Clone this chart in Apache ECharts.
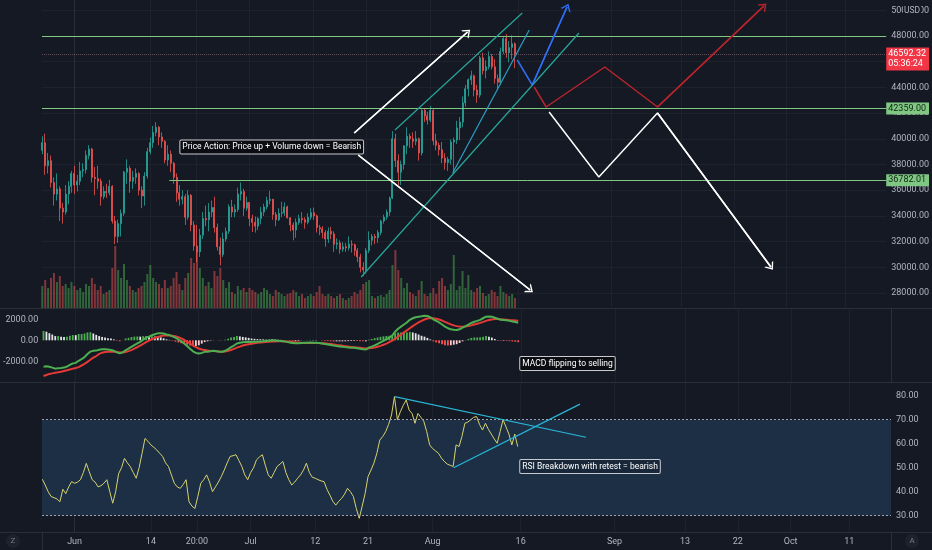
<!DOCTYPE html>
<html><head><meta charset="utf-8">
<script src="https://cdn.jsdelivr.net/npm/echarts@6/dist/echarts.min.js"></script>
<style>html,body{margin:0;padding:0;background:#151924;}#c{width:932px;height:550px;}</style>
</head><body><div id="c"></div>
<script>
// ---------- DATA (12h candles, x in days from 2021-06-01 00:00) ----------
const candleStart = -5.5;          // first candle: 2021-05-26 12:00
const candleStep = 0.5;            // 12 hours
const firstOpen = 39100;
const closes = [39700,37900,38300,36600,35700,36100,34600,34300,35700,36300,
37300,36400,36700,37500,37600,38700,39200,37000,36900,36700,
35500,35900,35800,36300,33600,32400,33400,34200,37400,37700,
36700,37000,37300,36000,35550,37100,39000,39700,40500,40900,
40150,39800,38350,38800,38100,37000,35800,35300,35500,33900,
35600,33300,31650,31200,32500,33800,33700,34300,34650,33100,
31600,31000,32200,32800,34700,34300,34500,35700,35900,34600,
35050,33800,33500,33200,33800,34300,34700,35200,35300,34100,
33700,34200,34250,34700,33850,33300,32900,33500,33800,33700,
33500,33900,34250,34000,33100,33000,32700,32200,32800,32600,
31800,31900,31400,31600,31500,31800,31750,31300,30800,30000,
29800,31300,32100,32400,32300,32700,33600,33900,34300,35400,
40000,38300,37400,38000,39450,40200,40000,39800,40000,38900,
42200,41800,41450,42200,39850,39500,39150,38500,38150,38400,
39750,39900,40850,41300,42800,43900,44600,44900,43800,43400,
46300,45300,45600,46400,45600,44700,44400,46800,47800,46700,
47100,47400,46592.32];
const highs = [40200,40400,38900,38700,37000,37300,36300,35000,36400,36700,
37500,37900,37200,38200,38100,39100,39500,39300,37800,37900,
36900,36300,36500,36800,36400,34000,33700,34500,37500,38400,
37900,37500,37700,37400,36300,37400,39300,40100,41000,41300,
41000,40500,39900,39500,39100,38200,37300,36400,36000,35700,
36000,35700,33600,33300,33000,34300,34800,35000,35200,35500,
33400,32300,32700,33100,34900,35250,34900,36200,36600,36100,
35500,35050,34100,33950,33900,34700,34950,35500,35950,35300,
34300,34600,35100,35050,34800,33900,33500,33800,34100,34300,
33900,34200,34600,34650,34100,33300,33200,32900,33100,33150,
32800,32250,32100,31950,31900,32400,32100,31850,31500,31050,
30400,31500,32800,32600,32600,32900,33700,34100,34500,35500,
40600,40400,38800,38300,39500,40900,40400,40500,40600,40100,
42300,42400,42100,42550,42300,40400,39700,39750,38900,38600,
39950,40100,41400,41700,43300,44200,44700,45300,45000,44200,
46450,46700,46100,46800,46600,46200,45000,47100,47900,48150,
47600,48050,47500];
const lows = [38800,37200,37300,36200,34800,35200,33600,33400,34100,34900,
35800,35700,35900,36400,37000,37300,38400,36600,35600,36100,
34800,35300,35400,35600,33400,31800,31900,32400,34000,36500,
35800,36100,36500,35600,34600,34800,36900,38800,39300,40200,
39500,39300,38100,37900,37400,36500,35100,34800,34900,33300,
33700,32800,31300,30400,30800,32200,33200,32800,33900,32700,
31300,30150,30800,32000,32600,33900,33900,34300,35200,34000,
34400,33200,32750,32700,32900,33350,34000,34500,34900,33700,
33200,33600,33900,34000,33800,32800,32100,32300,33300,33400,
33000,33350,33700,33700,32700,32500,32250,31600,31900,32200,
31200,31400,31050,31200,31200,31300,31150,30900,30400,29600,
29300,29500,31100,31700,31800,31900,32500,33400,33700,34000,
35300,37800,36400,36400,37600,38800,39300,39300,39500,38300,
38700,41300,41100,41300,39500,39100,38700,38100,37600,37500,
38000,37300,39600,39900,40900,42500,43300,44200,43300,42800,
43200,45000,44700,45400,45400,44300,43800,44200,46600,46300,
45950,46200,45500];
const volumes = [2200,2800,2000,3000,3500,2600,3200,2200,2400,2000,
2600,2200,1800,2000,1600,2400,2200,3000,2400,1800,
2200,1400,1600,1800,4000,6200,3800,3000,4400,2800,
2200,1800,1600,2000,2200,2600,3400,4300,3000,2600,
2400,2000,2800,2000,2200,3000,3600,2400,1800,3000,
3500,5000,4500,5800,4000,3000,2200,2600,2000,3700,
3200,4000,2800,2000,2600,1600,1400,2200,1800,2000,
1600,2000,1800,1600,1400,1600,2000,1800,1400,1200,
1800,1600,1400,1200,1400,1500,1800,1600,1200,1400,
1000,1200,1400,1200,1600,2200,1400,1200,1400,1200,
1000,1200,1400,1000,800,1000,1200,1600,1400,1800,
2400,2600,2800,1200,1000,1200,1300,1100,1400,1800,
4300,5800,3800,3000,2000,2500,1600,1400,1200,1800,
2700,1400,1200,1500,2000,1400,2700,3000,2200,1800,
2400,5300,1800,2200,3700,2000,3300,1800,1600,2000,
2200,1500,1200,1400,1800,1600,1200,2200,1600,1400,
1200,1400,1000];
const macdLine = [-2513,-2480,-2520,-2600,-2700,-2650,-2640,-2600,-2500,-2350,
-2200,-2150,-1950,-1800,-1600,-1300,-1080,-1000,-980,-900,
-860,-850,-880,-920,-1000,-1150,-1240,-1150,-950,-800,
-620,-450,-300,-150,50,250,350,480,580,660,
680,640,560,500,380,250,100,-100,-300,-550,
-800,-1050,-1200,-1250,-1200,-1100,-1080,-1050,-1000,-1050,
-1100,-1090,-1000,-850,-650,-500,-300,-230,-180,-150,
-140,-150,-140,-130,-110,-90,-60,-40,-30,-30,
-40,-60,-100,-150,-200,-260,-290,-280,-260,-240,
-230,-220,-225,-230,-260,-300,-350,-400,-450,-500,
-540,-580,-620,-650,-680,-700,-720,-760,-800,-850,
-880,-700,-600,-480,-350,-200,-50,100,250,450,
820,1100,1300,1500,1700,1950,2100,2200,2250,2280,
2330,2310,2200,2000,1850,1700,1500,1300,1150,1050,
1000,980,1050,1200,1350,1500,1650,1770,1850,1950,
2100,2250,2270,2250,2150,2050,1950,1930,1900,1850,
1800,1750,1680];
const signalLine = [-3400,-3300,-3200,-3150,-3100,-3050,-2990,-2920,-2850,-2780,
-2700,-2640,-2550,-2400,-2250,-2050,-1850,-1650,-1500,-1300,
-1180,-1120,-1080,-1080,-1085,-1100,-1150,-1160,-1120,-1030,
-930,-800,-660,-500,-340,-170,-20,100,220,320,
400,450,470,460,430,380,300,180,40,-120,
-300,-500,-650,-780,-880,-930,-980,-1010,-1030,-1050,
-1070,-1080,-1060,-1000,-920,-820,-700,-600,-500,-430,
-370,-320,-280,-240,-210,-180,-160,-140,-120,-110,
-100,-100,-110,-120,-140,-170,-200,-220,-240,-250,
-255,-255,-255,-255,-260,-270,-290,-320,-350,-390,
-440,-480,-520,-560,-600,-630,-660,-690,-720,-750,
-780,-760,-730,-680,-620,-530,-430,-310,-180,-30,
150,350,550,750,950,1150,1350,1530,1700,1850,
1980,2080,2120,2100,2050,1980,1880,1760,1640,1520,
1420,1350,1310,1300,1320,1360,1420,1500,1580,1660,
1750,1850,1930,1990,2020,2020,2000,1980,1960,1930,
1910,1890,1860];
const rsiValues = [45.2,42.8,40,38,37.5,37,35.8,41,39.2,42,
44.2,43.5,44,45,48,51.8,48.3,45,44,42,
42.5,43.5,45,40,35.2,40,47.5,50,53.9,52,
50.4,48,45.6,50,56,62.2,61,59.5,58.5,57.4,
56,54.7,52,50.5,47,43.5,42,41.4,43,45,
35.8,34,33,38,43.5,45,47,44,40,42,
44,46.3,49,52,54.7,55,55.4,53,50.5,47,
45,48,50,53.3,54.5,55.4,51,47,45.6,48,
50.5,51.5,52.6,48,45,42.8,44,45.6,47,49,
51.9,48,46,45.6,45,44.5,44.2,41,38.6,36,
34.4,36,37.2,39,41.4,40,38,33,28.9,34,
39.2,46.3,49,51.9,56,61.5,63,65,68,72,
79.6,70,73.3,76,78.2,74,72.6,68.5,72.6,71,
69.3,65,59.5,58,57,56,54,52.6,51.5,51,
50.5,59.5,58.8,63,68.5,69,70,71,71.3,68,
65.7,68.5,66,64,62,60.2,65,70,67,64,
59.5,64,58.8];

const xTickDays = [0,13,20.83,30,41,50,61,76,92,104,113,122,132];
const xTickLabels = ['Jun','14','20:00','Jul','12','21','Aug','16','Sep','13','22','Oct','11'];
const priceTicks = [28000,30000,32000,34000,36000,38000,40000,42000,44000,46000,48000,50000];
const macdTicks = [-2000,0,2000];
const rsiTicks = [30,40,50,60,70,80];
const rsiBand = [30,70];

// horizontal levels: [price, startDay]
const levelTop = [48000,-5.55];
const level1 = [42359.00,-5.55];
const level2 = [36782.01,16.26];
const lastPrice = 46592.32;
const countdown = '05:36:24';

// drawings in data coordinates [day, price] / [day, value]
const arrowUpWhite = [[47.95,40452],[67.37,48311]];
const arrowDownWhite = [[48.63,38739],[78.10,28234]];
const channelUpper = [[54.93,40685],[76.74,49790]];
const channelLower = [[49.14,29245],[86.45,48233]];
const channelInner = [[64.82,37339],[77.93,48467]];
const pathBlue = [[75.89,46132],[78.45,44187],[84.41,50257]];
const pathRed = [[78.79,44031],[80.83,42475],[90.88,45588],[99.91,42475],[118.14,50335]];
const pathWhite = [[81.34,42086],[89.86,37027],[99.91,42008],[119.34,30023]];
const rsiDown = [[54.52,79.6],[87.13,62.7]];
const rsiUp = [[64.58,50.0],[86.11,76.5]];
const noteMain = {at:[33.81,39362], text:'Price Action: Price up + Volume down = Bearish'};
const noteMacd = {at:[83.90,-2209], text:'MACD flipping to selling'};
const noteRsi = {at:[87.82,50.5], text:'RSI Breakdown with retest = bearish'};

// ---------- CHECK ----------
[closes,highs,lows,volumes,macdLine,signalLine,rsiValues].forEach((a,k)=>{
  if(a.length!==163) throw new Error('array '+k+' length '+a.length);
});

// ---------- BUILD ----------
const FONT = "Roboto, sans-serif";
const AX = '#b2b5be';
const UP = '#26a69a', DOWN = '#ef5350';
const xMin = -5.55, xMax = 139.1;
const times = closes.map((c,i)=>candleStart + i*candleStep);
const opens = closes.map((c,i)=> i===0 ? firstOpen : closes[i-1]);
const candleData = closes.map((c,i)=>[times[i], opens[i], c, lows[i], highs[i]]);
const volData = volumes.map((v,i)=>({value:[times[i], v],
  itemStyle:{color: closes[i]>=opens[i] ? 'rgba(76,175,80,0.5)' : 'rgba(239,83,80,0.5)'}}));
const hist = macdLine.map((m,i)=>m - signalLine[i]);
const histData = hist.map((h,i)=>{
  const prev = i===0 ? h : hist[i-1];
  let col;
  if (h>=0) col = h>=prev ? '#4caf50' : '#e6e6e6';
  else col = h<prev ? '#ff5252' : '#ffcdd2';
  return {value:[times[i], h], itemStyle:{color:col}};
});
const macdData = macdLine.map((m,i)=>[times[i], m]);
const sigData = signalLine.map((s,i)=>[times[i], s]);
const rsiData = rsiValues.map((r,i)=>[times[i], r]);

const CHEV = 'path://M0,10 L5,0 L10,10 L8.4,10 L5,3.2 L1.6,10 Z';

function drawing(pts, color, xi, yi, arrow, width){
  const s = {type:'line', xAxisIndex:xi, yAxisIndex:yi, data:pts, showSymbol:false, symbol:'none',
    lineStyle:{color:color, width:width||1.5}, z:6, silent:true, animation:false, clip:false};
  if (arrow){
    const n = pts.length;
    s.markLine = {silent:true, animation:false, symbol:['none','none'], label:{show:false},
      lineStyle:{color:color, width:width||1.5, type:'solid'},
      data:[[{coord:pts[n-2], symbol:'none'},{coord:pts[n-1], symbol:CHEV, symbolSize:[11,7]}]]};
  }
  return s;
}
function note(n, xi, yi, bg){
  return {type:'scatter', xAxisIndex:xi, yAxisIndex:yi, data:[], z:8, silent:true, animation:false,
    markPoint:{silent:true, animation:false, symbol:'rect', symbolSize:1, itemStyle:{color:'rgba(0,0,0,0)'},
      label:{show:true, position:'inside', formatter:n.text, color:'#ffffff', fontSize:8.5, fontFamily:FONT,
        backgroundColor:bg, borderColor:'#c8cad0', borderWidth:1, padding:[2,2,2,2], borderRadius:1},
      data:[{coord:n.at}]}};
}
function xAxisFor(gi, labels){
  return {type:'value', gridIndex:gi, min:xMin, max:xMax,
    axisLine:{show:labels, lineStyle:{color:'#2a2e39'}},
    axisTick:{show:false, customValues:xTickDays},
    axisLabel:{show:labels, customValues:xTickDays, color:AX, fontSize:9, fontFamily:FONT, margin:5,
      formatter:(v)=>{ let k=-1; xTickDays.forEach((d,j)=>{ if(Math.abs(d-v)<1e-6) k=j; }); return k>=0 ? xTickLabels[k] : ''; }},
    splitLine:{show:true, lineStyle:{color:'#1e222d', width:1}}};
}

const GREEN = '#81c784';
const levelStyle = {color:GREEN, width:1, type:'solid'};
const tagLabel = (txt)=>({show:true, position:'end', distance:0, formatter:txt, color:'#0f2611', backgroundColor:GREEN,
  fontSize:9, fontFamily:FONT, padding:[2,3,1,2]});
const option = {
  backgroundColor:'#151924',
  animation:false,
  grid:[
    {left:42, right:41, top:0, height:308},
    {left:42, right:41, top:308, height:74},
    {left:42, right:41, top:382, height:150}
  ],
  xAxis:[xAxisFor(0,false), xAxisFor(1,false), xAxisFor(2,true)],
  yAxis:[
    {type:'value', gridIndex:0, position:'right', min:26833, max:50802,
      axisLine:{show:true, lineStyle:{color:'#2a2e39'}},
      axisTick:{show:false, customValues:priceTicks},
      axisLabel:{customValues:priceTicks, formatter:(v)=>v.toFixed(2), color:AX, fontSize:9, fontFamily:FONT, margin:5},
      splitLine:{show:true, lineStyle:{color:'#1e222d'}}},
    {type:'value', gridIndex:0, min:0, max:30800, show:false, splitLine:{show:false}},
    {type:'value', gridIndex:1, position:'left', min:-3971, max:3076,
      axisLine:{show:false}, axisTick:{show:false, customValues:macdTicks},
      axisLabel:{customValues:macdTicks, formatter:(v)=>v.toFixed(2), color:AX, fontSize:9, fontFamily:FONT, margin:5},
      splitLine:{show:false}},
    {type:'value', gridIndex:1, position:'right', min:-3971, max:3076,
      axisLine:{show:true, lineStyle:{color:'#2a2e39'}}, axisTick:{show:false}, axisLabel:{show:false}, splitLine:{show:false}},
    {type:'value', gridIndex:2, position:'right', min:23.21, max:85.71,
      axisLine:{show:true, lineStyle:{color:'#2a2e39'}}, axisTick:{show:false, customValues:rsiTicks},
      axisLabel:{customValues:rsiTicks, formatter:(v)=>v.toFixed(2), color:AX, fontSize:9, fontFamily:FONT, margin:5},
      splitLine:{show:false}}
  ],
  graphic:[
    {type:'line', shape:{x1:0,y1:308.5,x2:932,y2:308.5}, style:{stroke:'#2a2e39', lineWidth:1}, z:50, silent:true},
    {type:'line', shape:{x1:0,y1:382.5,x2:932,y2:382.5}, style:{stroke:'#2a2e39', lineWidth:1}, z:50, silent:true},
    {type:'line', shape:{x1:0,y1:532.5,x2:932,y2:532.5}, style:{stroke:'#2a2e39', lineWidth:1}, z:50, silent:true},
    {type:'line', shape:{x1:42.5,y1:532,x2:42.5,y2:550}, style:{stroke:'#2a2e39', lineWidth:1}, silent:true},
    {type:'line', shape:{x1:891.5,y1:532,x2:891.5,y2:550}, style:{stroke:'#2a2e39', lineWidth:1}, silent:true},
    {type:'circle', shape:{cx:13, cy:541, r:7}, style:{fill:'#1e222d'}, silent:true},
    {type:'text', x:13, y:541, style:{text:'Z', fill:'#787b86', fontSize:8, fontFamily:FONT, align:'center', verticalAlign:'middle'}, silent:true},
    {type:'circle', shape:{cx:912, cy:541, r:7}, style:{fill:'#1e222d'}, silent:true},
    {type:'text', x:912, y:541, style:{text:'A', fill:'#787b86', fontSize:8, fontFamily:FONT, align:'center', verticalAlign:'middle'}, silent:true},
    {type:'text', x:903, y:5, z:60, style:{text:'USD', fill:AX, fontSize:8.5, fontFamily:FONT, backgroundColor:'#151924', padding:[1,1,1,1]}, silent:true}
  ],
  series:[
    {type:'bar', name:'Volume', xAxisIndex:0, yAxisIndex:1, data:volData, barWidth:2, z:1, silent:true, animation:false},
    {type:'candlestick', name:'BTCUSD', xAxisIndex:0, yAxisIndex:0, data:candleData, barWidth:1.5, z:3, silent:true,
      itemStyle:{color:UP, color0:DOWN, borderColor:UP, borderColor0:DOWN, borderWidth:0.8}},
    {type:'line', xAxisIndex:0, yAxisIndex:0, data:[], z:4, silent:true, clip:false,
      markLine:{silent:true, animation:false, symbol:['none','none'], lineStyle:levelStyle,
        data:[
          [{coord:[levelTop[1], levelTop[0]], lineStyle:levelStyle, label:{show:false}},{coord:[xMax, levelTop[0]]}],
          [{coord:[level1[1], level1[0]], lineStyle:levelStyle, label:tagLabel(level1[0].toFixed(2))},{coord:[xMax, level1[0]]}],
          [{coord:[level2[1], level2[0]], lineStyle:levelStyle, label:tagLabel(level2[0].toFixed(2))},{coord:[xMax, level2[0]]}],
          [{coord:[xMin, lastPrice], lineStyle:{color:'rgba(160,120,130,0.55)', width:1, type:'dotted'},
            label:{show:true, position:'end', distance:0, formatter:lastPrice.toFixed(2)+'\n'+countdown, color:'#ffffff',
              backgroundColor:'#f23645', fontSize:9, lineHeight:10, fontFamily:FONT, padding:[2,3,1,2], offset:[0,5]}},{coord:[xMax, lastPrice]}]
        ]}},
    drawing(channelUpper, '#26a69a', 0, 0, false, 1.2),
    drawing(channelLower, '#26a69a', 0, 0, false, 1.2),
    drawing(channelInner, '#2b9fc9', 0, 0, false, 1.2),
    drawing(arrowUpWhite, '#ffffff', 0, 0, true),
    drawing(arrowDownWhite, '#ffffff', 0, 0, true),
    drawing(pathBlue, '#2f6df2', 0, 0, true),
    drawing(pathRed, '#b8242c', 0, 0, true),
    drawing(pathWhite, '#ffffff', 0, 0, true),
    note(noteMain, 0, 0, '#0b0d12'),
    {type:'bar', name:'Histogram', xAxisIndex:1, yAxisIndex:2, data:histData, barWidth:1.8, z:2, silent:true},
    {type:'line', name:'Signal', xAxisIndex:1, yAxisIndex:2, data:sigData, showSymbol:false, symbol:'none',
      lineStyle:{color:'#e53935', width:2}, z:3, silent:true},
    {type:'line', name:'MACD', xAxisIndex:1, yAxisIndex:2, data:macdData, showSymbol:false, symbol:'none',
      lineStyle:{color:'#4caf50', width:2}, z:4, silent:true},
    note(noteMacd, 1, 2, '#0b0d12'),
    {type:'line', xAxisIndex:2, yAxisIndex:4, data:[], z:1, silent:true,
      markArea:{silent:true, itemStyle:{color:'#1c2f44'}, data:[[{yAxis:rsiBand[0]},{yAxis:rsiBand[1]}]]},
      markLine:{silent:true, symbol:['none','none'], label:{show:false},
        lineStyle:{color:'#9aa0ad', width:1, type:[2,2]},
        data:[{yAxis:rsiBand[1]},{yAxis:rsiBand[0]}]}},
    {type:'line', name:'RSI', xAxisIndex:2, yAxisIndex:4, data:rsiData, showSymbol:false, symbol:'none',
      lineStyle:{color:'#d8d26e', width:1}, z:3, silent:true},
    drawing(rsiDown, '#29b6d6', 2, 4, false, 1.2),
    drawing(rsiUp, '#29b6d6', 2, 4, false, 1.2),
    note(noteRsi, 2, 4, '#18283a')
  ]
};
const chart = echarts.init(document.getElementById('c'), null, {width:932, height:550});
chart.setOption(option);
</script>
</body></html>
